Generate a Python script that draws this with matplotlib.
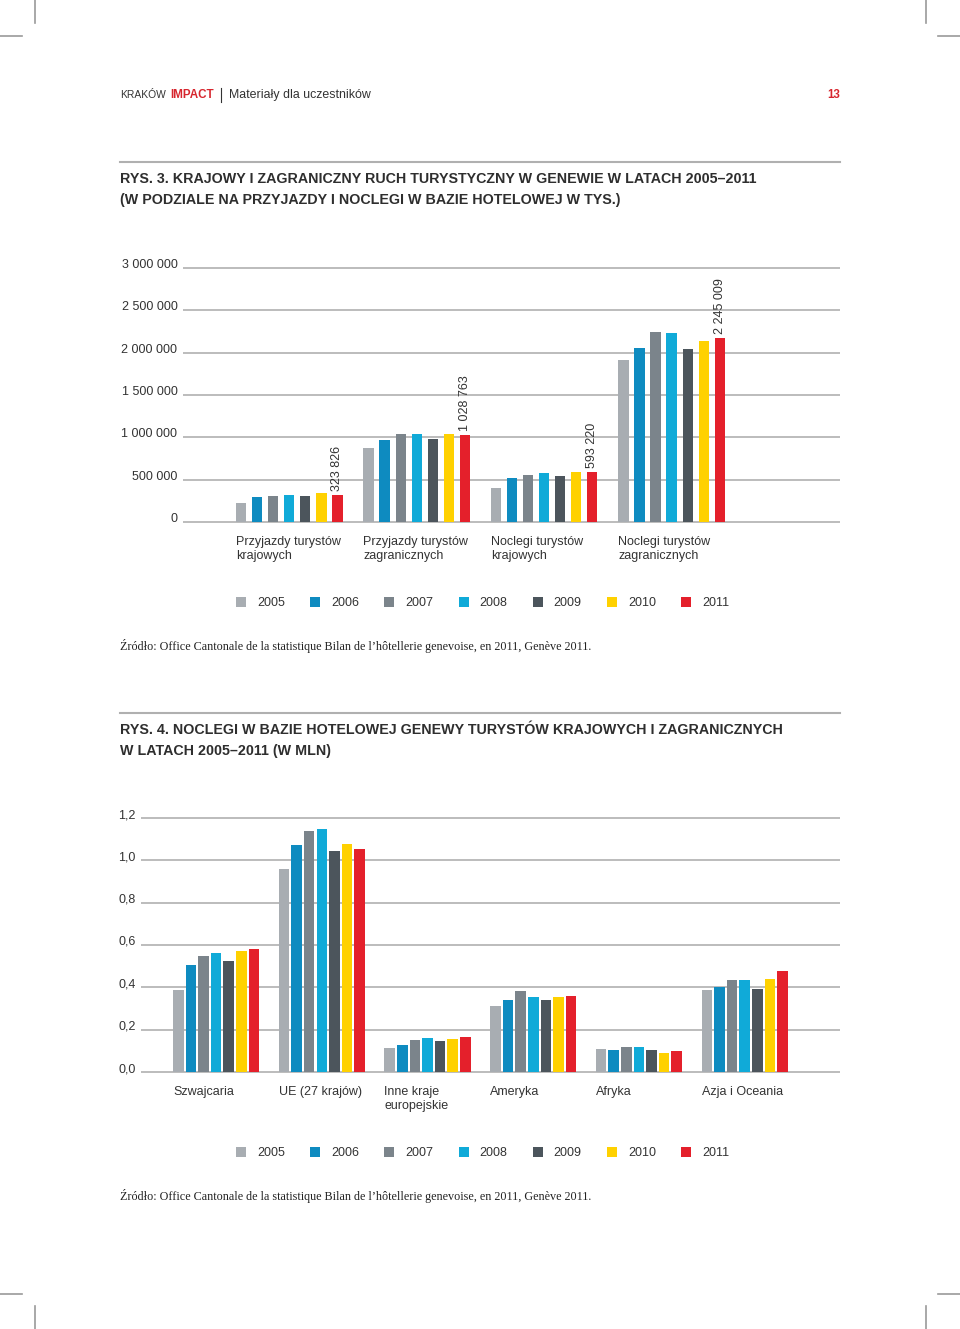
import numpy as np
import matplotlib
matplotlib.use("Agg")
from matplotlib import pyplot as plt
from matplotlib.lines import Line2D
from matplotlib.patches import Rectangle

# Dane
years = ['2005', '2006', '2007', '2008', '2009', '2010', '2011']
colors = ['#a8adb2', '#0e8bc0', '#7b848b', '#10aad8', '#4c555c', '#ffd100', '#e4202b']

cat1 = ['Przyjazdy turystów\nkrajowych', 'Przyjazdy turystów\nzagranicznych',
        'Noclegi turystów\nkrajowych', 'Noclegi turystów\nzagranicznych']
# wartosci, klucz = rok
val1 = {
    '2005': [224000, 878000, 402000, 1909000],
    '2006': [299000, 965000, 520000, 2059000],
    '2007': [307000, 1035000, 559000, 2244000],
    '2008': [319000, 1043000, 579000, 2236000],
    '2009': [307000, 984000, 543000, 2047000],
    '2010': [343000, 1035000, 594000, 2138000],
    '2011': [323826, 1028763, 593220, 2169000],
}
labels_2011 = ['323 826', '1 028 763', '593 220', '2 245 009']
ticks1 = [0, 500000, 1000000, 1500000, 2000000, 2500000, 3000000]
ticklabels1 = ['0', '500 000', '1 000 000', '1 500 000', '2 000 000', '2 500 000', '3 000 000']

cat2 = ['Szwajcaria', 'UE (27 krajów)', 'Inne kraje\neuropejskie', 'Ameryka', 'Afryka', 'Azja i Oceania']
val2 = {
    '2005': [0.388, 0.958, 0.113, 0.314, 0.108, 0.387],
    '2006': [0.505, 1.071, 0.127, 0.340, 0.105, 0.401],
    '2007': [0.546, 1.138, 0.151, 0.384, 0.118, 0.436],
    '2008': [0.564, 1.148, 0.162, 0.354, 0.116, 0.436],
    '2009': [0.525, 1.044, 0.145, 0.338, 0.105, 0.393],
    '2010': [0.572, 1.079, 0.154, 0.355, 0.091, 0.440],
    '2011': [0.579, 1.055, 0.167, 0.360, 0.101, 0.476],
}
ticks2 = [0.0, 0.2, 0.4, 0.6, 0.8, 1.0, 1.2]
ticklabels2 = ['0,0', '0,2', '0,4', '0,6', '0,8', '1,0', '1,2']

W, H = 960, 1329
plt.rcParams['font.family'] = ['Liberation Sans', 'DejaVu Sans']
TXT = '#333333'
GRID = '#a9a9a9'

fig = plt.figure(figsize=(W / 100, H / 100), dpi=100)


def fx(x):
    return x / W


def fy(y):
    return 1 - y / H


def ax_rect(left, top, right, bottom):
    return [fx(left), fy(bottom), (right - left) / W, (bottom - top) / H]


# znaczniki ciecia
for seg in [((35, 35), (0, 23)), ((926, 926), (0, 23)), ((0, 22), (36, 36)), ((938, 960), (36, 36)),
            ((0, 22), (1294, 1294)), ((938, 960), (1294, 1294)),
            ((35, 35), (1306, 1329)), ((926, 926), (1306, 1329))]:
    fig.add_artist(Line2D([fx(seg[0][0]), fx(seg[0][1])], [fy(seg[1][0]), fy(seg[1][1])],
                          color='#9a9a9a', lw=1.2))

# naglowek
fig.text(fx(120), fy(95), 'KRAKÓW', fontsize=7.4, color=TXT, va='center')
fig.text(fx(170), fy(95), 'IMPACT', fontsize=8.4, color='#d7262e', fontweight='bold', va='center')
fig.add_artist(Line2D([fx(221), fx(221)], [fy(88), fy(102)], color=TXT, lw=0.8))
fig.text(fx(229), fy(95), 'Materiały dla uczestników', fontsize=8.9, color=TXT, va='center')
fig.text(fx(840), fy(95), '13', fontsize=8.3, color='#d7262e', fontweight='bold', va='center', ha='right')


def title_block(y_line, y1, y2, l1, l2):
    fig.add_artist(Line2D([fx(120), fx(840)], [fy(y_line), fy(y_line)], color='#b0b0b0', lw=1.5))
    for y, s in [(y1, l1), (y2, l2)]:
        fig.text(fx(120), fy(y), s, fontsize=10.3, fontweight='bold', color='#2e2e2e', va='center')


def legend_row(y):
    for i, (yr, c) in enumerate(zip(years, colors)):
        x0 = 236 + i * 74.2
        fig.add_artist(Rectangle((fx(x0), fy(y + 5)), 10 / W, 10 / H, color=c, lw=0))
        fig.text(fx(x0 + 21), fy(y + 1), yr, fontsize=9, color=TXT, va='center')


def source_line(y):
    fig.text(fx(120), fy(y), 'Źródło: Office Cantonale de la statistique Bilan de l’hôtellerie genevoise, en 2011, Genève 2011.',
             fontsize=8.7, color='#222222', va='center', family=['Liberation Serif', 'DejaVu Serif'])


def style_axis(ax, ticks, ticklabels):
    ax.set_yticks(ticks)
    ax.set_yticklabels(ticklabels, fontsize=9, color=TXT)
    for lab in ax.get_yticklabels():
        lab.set_verticalalignment('baseline')
    ax.tick_params(axis='y', length=0, pad=4)
    ax.tick_params(axis='x', length=0, labelbottom=False)
    for s in ax.spines.values():
        s.set_visible(False)
    ax.yaxis.grid(True, color=GRID, lw=1.1)
    ax.set_axisbelow(True)


# ---- Rys. 3 ----
title_block(162, 179, 200,
            'RYS. 3. KRAJOWY I ZAGRANICZNY RUCH TURYSTYCZNY W GENEWIE W LATACH 2005–2011',
            '(W PODZIALE NA PRZYJAZDY I NOCLEGI W BAZIE HOTELOWEJ W TYS.)')

pad1 = 30000
ppu1 = 254 / 3e6
ax1 = fig.add_axes(ax_rect(183, 268 - pad1 * ppu1, 840, 522 + pad1 * ppu1))
gpitch1 = 7.94
x_groups1 = np.arange(len(cat1)) * gpitch1
for j, yr in enumerate(years):
    ax1.bar(x_groups1 + j, val1[yr], width=0.64, color=colors[j], lw=0)
ax1.set_ylim(-pad1, 3e6 + pad1)
ax1.set_xlim(-0.32 - 53 / 16.05, -0.32 - 53 / 16.05 + 657 / 16.05)
style_axis(ax1, ticks1, ticklabels1)
for g, lab in enumerate(labels_2011):
    ax1.annotate(lab, (x_groups1[g] + 6, val1['2011'][g]), xytext=(0, 4), textcoords='offset pixels',
                 rotation=90, ha='center', va='bottom', fontsize=9, color=TXT)
for g, lab in enumerate(cat1):
    ax1.annotate(lab, (x_groups1[g] - 0.32, 0), xytext=(0, -14), textcoords='offset pixels',
                 ha='left', va='top', fontsize=9, color=TXT, linespacing=1.2)

legend_row(602)
source_line(646)

# ---- Rys. 4 ----
title_block(713, 730, 751,
            'RYS. 4. NOCLEGI W BAZIE HOTELOWEJ GENEWY TURYSTÓW KRAJOWYCH I ZAGRANICZNYCH',
            'W LATACH 2005–2011 (W MLN)')

pad2 = 0.012
ppu2 = 254 / 1.2
ax2 = fig.add_axes(ax_rect(141, 818 - pad2 * ppu2, 840, 1072 + pad2 * ppu2))
gpitch2 = 8.39
x_groups2 = np.arange(len(cat2)) * gpitch2
for j, yr in enumerate(years):
    ax2.bar(x_groups2 + j, val2[yr], width=0.84, color=colors[j], lw=0)
ax2.set_ylim(-pad2, 1.2 + pad2)
ax2.set_xlim(-0.42 - 32 / 12.6, -0.42 - 32 / 12.6 + 699 / 12.6)
style_axis(ax2, ticks2, ticklabels2)
for g, lab in enumerate(cat2):
    ax2.annotate(lab, (x_groups2[g] - 0.42, 0), xytext=(0, -14), textcoords='offset pixels',
                 ha='left', va='top', fontsize=9, color=TXT, linespacing=1.2)

legend_row(1152)
source_line(1196)

fig.savefig('out.png', dpi=100, facecolor='white')
